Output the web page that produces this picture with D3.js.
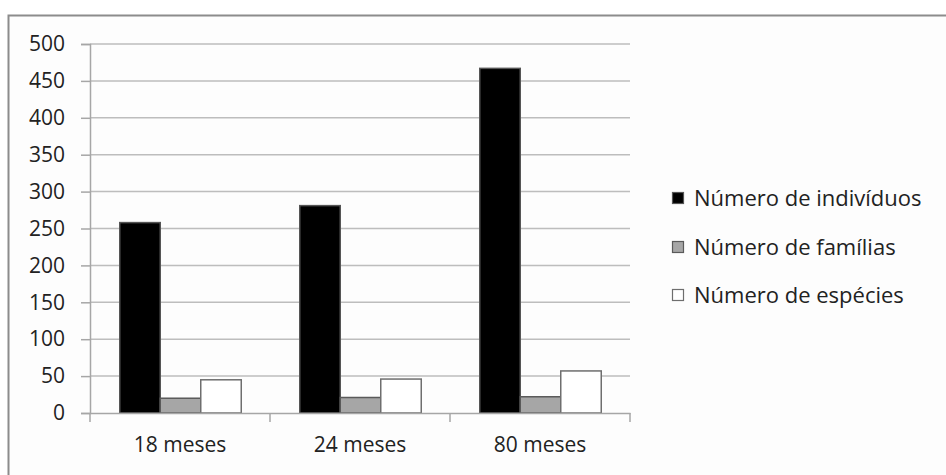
<!DOCTYPE html>
<html>
<head>
<meta charset="utf-8">
<script src="https://cdn.jsdelivr.net/npm/d3@7"></script>
<style>
  html, body { margin: 0; padding: 0; background: #ffffff; }
  svg { display: block; }
  text { font-family: "Open Sans", "Liberation Sans", sans-serif; fill: #222; }
</style>
</head>
<body>
<svg id="chart" width="946" height="475"></svg>
<script>
// Periods sampled and the three counts recorded for each
const categories = ["18 meses", "24 meses", "80 meses"];
const seriesNames = ["Número de indivíduos", "Número de famílias", "Número de espécies"];
const individuos = [258, 281, 467];
const familias = [20, 21, 22];
const especies = [45, 46, 57];
const yTicks = [0, 50, 100, 150, 200, 250, 300, 350, 400, 450, 500];

const seriesValues = [individuos, familias, especies];
const fills = ["#000000", "#a6a6a6", "#ffffff"];
const strokes = ["#555555", "#5a5a5a", "#6e6e6e"];
const fontSize = 21;

const svg = d3.select("#chart");

// Chart frame
svg.append("rect")
  .attr("x", 8.5).attr("y", 15.5)
  .attr("width", 960).attr("height", 480)
  .attr("fill", "#fdfdfd")
  .attr("stroke", "#8c8c8c").attr("stroke-width", 2);

const plot = { left: 90, right: 630, top: 44, bottom: 413 };

const x0 = d3.scaleBand()
  .domain(categories)
  .range([plot.left, plot.right])
  .paddingInner(0).paddingOuter(0);

const groupPad = 29.25;
const x1 = d3.scaleBand()
  .domain(d3.range(seriesNames.length))
  .range([groupPad, x0.bandwidth() - groupPad])
  .padding(0);

const y = d3.scaleLinear().domain([0, 500]).range([plot.bottom, plot.top]);

// Horizontal gridlines
svg.append("g")
  .selectAll("line")
  .data(yTicks.filter(t => t > 0))
  .join("line")
  .attr("x1", plot.left).attr("x2", plot.right)
  .attr("y1", d => y(d)).attr("y2", d => y(d))
  .attr("stroke", "#bdbdbd").attr("stroke-width", 1.5);

// Y axis
const yAxis = d3.axisLeft(y).tickValues(yTicks).tickSize(9).tickPadding(16);
const gy = svg.append("g").attr("transform", `translate(${plot.left},0)`).call(yAxis);
gy.select(".domain").attr("stroke", "#a6a6a6").attr("stroke-width", 1.5);
gy.selectAll(".tick line").attr("stroke", "#a6a6a6").attr("stroke-width", 1.5);
gy.selectAll(".tick text")
  .attr("font-size", fontSize).attr("fill", "#2a2a2a")
  .style("font-family", "'Open Sans', 'Liberation Sans', sans-serif");

// Bars
const groups = svg.append("g")
  .selectAll("g")
  .data(categories)
  .join("g")
  .attr("transform", d => `translate(${x0(d)},0)`);

groups.selectAll("rect")
  .data((c, ci) => seriesValues.map((vals, si) => ({ si, v: vals[ci] })))
  .join("rect")
  .attr("x", d => x1(d.si) + 0.5)
  .attr("width", x1.bandwidth())
  .attr("y", d => y(d.v))
  .attr("height", d => y(0) - y(d.v))
  .attr("fill", d => fills[d.si])
  .attr("stroke", d => strokes[d.si])
  .attr("stroke-width", 1.5);

// X axis
const xAxis = d3.axisBottom(x0).tickSize(0).tickPadding(24);
const gx = svg.append("g").attr("transform", `translate(0,${plot.bottom})`).call(xAxis);
gx.select(".domain").attr("stroke", "#a6a6a6").attr("stroke-width", 1.5);
gx.selectAll(".tick text")
  .attr("font-size", fontSize).attr("fill", "#2a2a2a")
  .style("font-family", "'Open Sans', 'Liberation Sans', sans-serif");

// Category separator ticks below the baseline
svg.append("g")
  .selectAll("line")
  .data(categories.map(c => x0(c)).concat([plot.right]))
  .join("line")
  .attr("x1", d => d).attr("x2", d => d)
  .attr("y1", plot.bottom).attr("y2", plot.bottom + 9)
  .attr("stroke", "#a6a6a6").attr("stroke-width", 1.5);

// Legend
const legend = svg.append("g").attr("transform", "translate(672,0)");
const legendY = [198, 247, 295];
const item = legend.selectAll("g")
  .data(seriesNames)
  .join("g")
  .attr("transform", (d, i) => `translate(0,${legendY[i]})`);
item.append("rect")
  .attr("x", 0.5).attr("y", -5.5)
  .attr("width", 11).attr("height", 11)
  .attr("fill", (d, i) => fills[i])
  .attr("stroke", (d, i) => strokes[i]).attr("stroke-width", 1.2);
item.append("text")
  .attr("x", 22).attr("y", 0)
  .attr("dy", "0.36em")
  .attr("font-size", 22)
  .attr("fill", "#2a2a2a")
  .text(d => d);
</script>
</body>
</html>
